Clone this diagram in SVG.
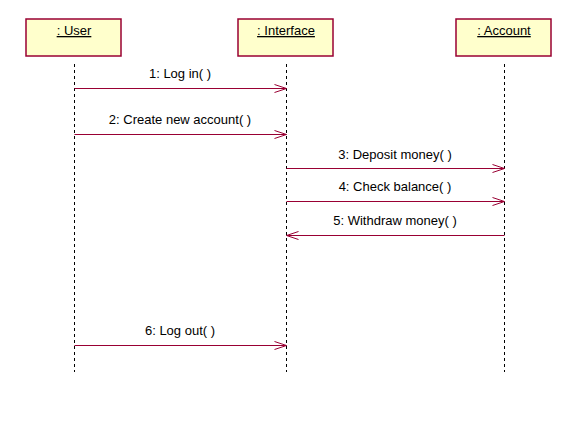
<svg xmlns="http://www.w3.org/2000/svg" width="579" height="425" viewBox="0 0 579 425">
<defs>
<marker id="open" markerWidth="14" markerHeight="10" refX="13" refY="5" orient="auto" markerUnits="userSpaceOnUse">
<path d="M1,1 L13,5 L1,9" fill="none" stroke="#990033" stroke-width="1"/>
</marker>
</defs>
<style>
.box{fill:#ffffcc;stroke:#990033;stroke-width:1.5}
.name{font-family:"Liberation Sans",Arial,sans-serif;font-size:13px;fill:#000;text-anchor:middle;text-decoration:underline}
.life{stroke:#000;stroke-width:1;stroke-dasharray:3,3;fill:none}
.msg{stroke:#990033;stroke-width:1;fill:none;marker-end:url(#open)}
.lbl{font-family:"Liberation Sans",Arial,sans-serif;font-size:13px;fill:#000;text-anchor:middle}
</style>
<rect width="579" height="425" fill="#fff"/>
<g id="user">
<rect class="box" x="26" y="19" width="95" height="37"/>
<text class="name" x="74" y="35">: User</text>
<line class="life" x1="74.5" y1="64" x2="74.5" y2="372"/>
</g>
<g id="interface">
<rect class="box" x="238" y="19" width="95" height="37"/>
<text class="name" x="286" y="35">: Interface</text>
<line class="life" x1="286.5" y1="64" x2="286.5" y2="372"/>
</g>
<g id="account">
<rect class="box" x="456" y="19" width="95" height="37"/>
<text class="name" x="504" y="35">: Account</text>
<line class="life" x1="504.5" y1="64" x2="504.5" y2="372"/>
</g>
<g id="connectors">
<line class="msg" x1="74.5" y1="88.5" x2="286.5" y2="88.5"/>
<text class="lbl" x="180" y="78">1: Log in( )</text>
<line class="msg" x1="74.5" y1="134.5" x2="286.5" y2="134.5"/>
<text class="lbl" x="180" y="124">2: Create new account( )</text>
<line class="msg" x1="286.5" y1="168.5" x2="504.5" y2="168.5"/>
<text class="lbl" x="395" y="159">3: Deposit money( )</text>
<line class="msg" x1="286.5" y1="201.5" x2="504.5" y2="201.5"/>
<text class="lbl" x="395" y="191">4: Check balance( )</text>
<line class="msg" x1="504.5" y1="235.5" x2="286.5" y2="235.5"/>
<text class="lbl" x="395" y="225">5: Withdraw money( )</text>
<line class="msg" x1="74.5" y1="345.5" x2="286.5" y2="345.5"/>
<text class="lbl" x="180" y="335">6: Log out( )</text>
</g>
</svg>
